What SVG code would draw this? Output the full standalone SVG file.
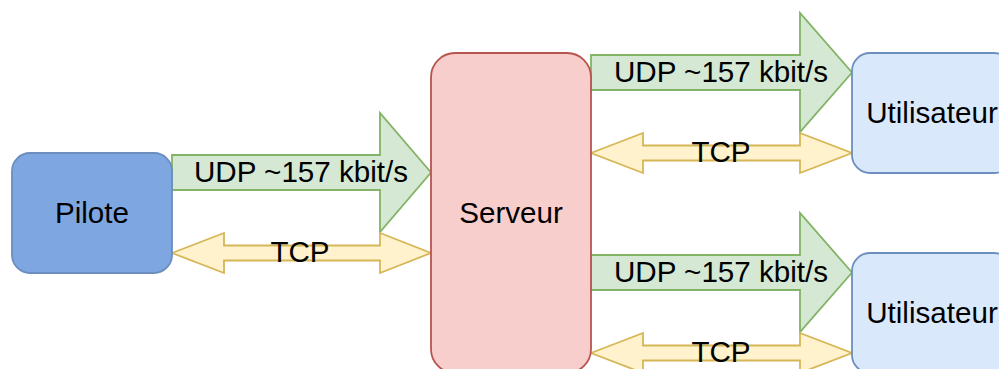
<svg xmlns="http://www.w3.org/2000/svg" width="999" height="369" viewBox="0 0 999 369">
<style>
.lbl{font-family:"Liberation Sans",Arial,sans-serif;font-size:29.6px;fill:#000;text-anchor:middle}
.udp{fill:#d5e8d4;stroke:#82b366;stroke-width:1.8}
.tcp{fill:#fff2cc;stroke:#d6b656;stroke-width:1.8}
</style>
<rect width="999" height="369" fill="#ffffff"/>
<g id="connectors">
<g id="udp1">
<polygon class="udp" points="172,155 380,155 380,113 431,172.5 380,232 380,190 172,190"/>
</g>
<g id="tcp1">
<polygon class="tcp" points="172,253 224,233 224,245.5 380,245.5 380,233 431,253 380,273 380,260.5 224,260.5 224,273"/>
</g>
<g id="udp2">
<polygon class="udp" points="591,55 800,55 800,13 852,72.5 800,132 800,90 591,90"/>
</g>
<g id="tcp2">
<polygon class="tcp" points="591,153 643,133 643,145.5 800,145.5 800,133 852,153 800,173 800,160.5 643,160.5 643,173"/>
</g>
<g id="udp3">
<polygon class="udp" points="591,255 800,255 800,213 852,272.5 800,332 800,290 591,290"/>
</g>
<g id="tcp3">
<polygon class="tcp" points="591,353 643,333 643,345.5 800,345.5 800,333 852,353 800,373 800,360.5 643,360.5 643,373"/>
</g>
</g>
<g id="pilote">
<rect x="12" y="153" width="160" height="120" rx="18" fill="#7ea6e0" stroke="#6c8ebf" stroke-width="1.8"/>
<text class="lbl" x="92" y="223">Pilote</text>
</g>
<g id="serveur">
<rect x="431" y="53" width="160" height="320" rx="24" fill="#f8cecc" stroke="#b85450" stroke-width="1.8"/>
<text class="lbl" x="511" y="223">Serveur</text>
</g>
<g id="utilisateur1">
<rect x="852" y="53" width="160" height="120" rx="18" fill="#dae8fc" stroke="#6c8ebf" stroke-width="1.8"/>
<text class="lbl" x="932" y="123">Utilisateur</text>
</g>
<g id="utilisateur2">
<rect x="852" y="253" width="160" height="120" rx="18" fill="#dae8fc" stroke="#6c8ebf" stroke-width="1.8"/>
<text class="lbl" x="932" y="323">Utilisateur</text>
</g>
<g id="labels">
<text class="lbl" x="301" y="182">UDP ~157 kbit/s</text>
<text class="lbl" x="300" y="262">TCP</text>
<text class="lbl" x="721" y="82">UDP ~157 kbit/s</text>
<text class="lbl" x="721" y="162">TCP</text>
<text class="lbl" x="721" y="282">UDP ~157 kbit/s</text>
<text class="lbl" x="721" y="362">TCP</text>
</g>
</svg>
